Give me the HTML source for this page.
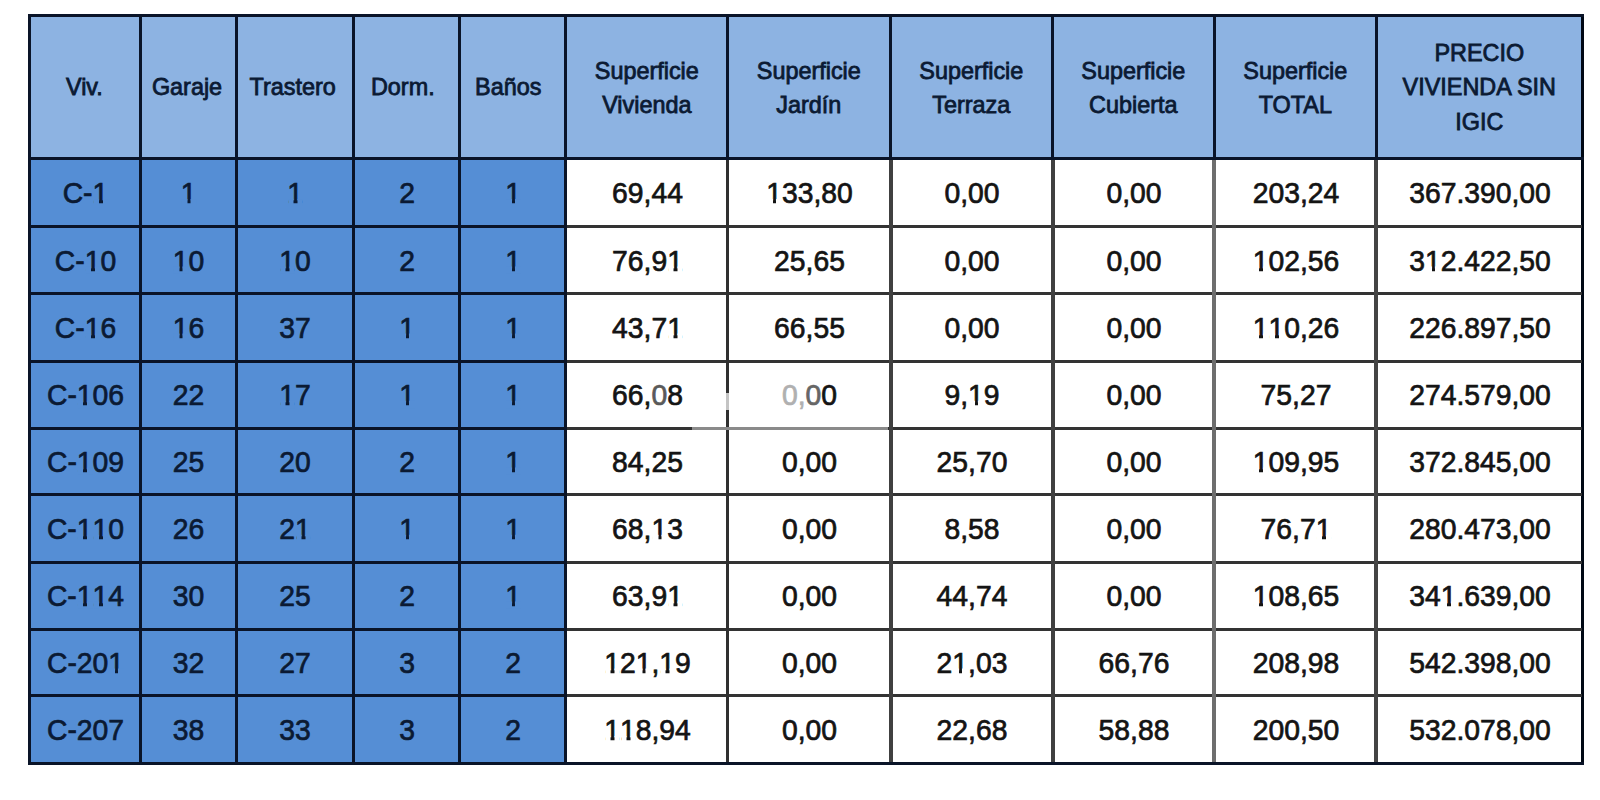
<!DOCTYPE html>
<html><head><meta charset="utf-8"><style>
html,body{margin:0;padding:0;background:#fff;width:1600px;height:800px;overflow:hidden;position:relative;font-family:"Liberation Sans",sans-serif;}
.c{position:absolute;}
.t{position:absolute;left:0;right:0;top:50%;text-align:center;white-space:nowrap;}
.h .t{font-size:23.4px;line-height:34.5px;color:#0b1a33;-webkit-text-stroke:0.8px #0b1a33;}
.b .t,.w .t{font-size:28.3px;line-height:40px;height:40px;margin-top:-20px;}
.b .t{color:#0b1a33;-webkit-text-stroke:0.7px #0b1a33;}
.w .t{color:#141414;-webkit-text-stroke:0.7px #141414;}
.h{background:#8db3e2;}
.b{background:#558ed5;}
.w{background:#fff;}
.l{position:absolute;}
.o{position:relative;}
.o::before,.o::after{content:'';position:absolute;bottom:0.1em;height:0.25em;}
.o::before{left:0.04em;width:0.195em;}
.o::after{left:0.356em;width:0.2em;}
.b .o::before,.b .o::after{background:#558ed5;}
.w .o::before,.w .o::after{background:#fff;}
</style></head><body>

<div class="c h" style="left:29px;top:15px;width:111px;height:143px"><div class="t" style="transform:translateX(-0.10px);margin-top:-16.75px">Viv.</div></div>
<div class="c h" style="left:140px;top:15px;width:96px;height:143px"><div class="t" style="transform:translateX(-1.00px);margin-top:-16.75px">Garaje</div></div>
<div class="c h" style="left:236px;top:15px;width:117px;height:143px"><div class="t" style="transform:translateX(-1.80px);margin-top:-16.75px">Trastero</div></div>
<div class="c h" style="left:353px;top:15px;width:106px;height:143px"><div class="t" style="transform:translateX(-3.20px);margin-top:-16.75px">Dorm.</div></div>
<div class="c h" style="left:459px;top:15px;width:106px;height:143px"><div class="t" style="transform:translateX(-3.80px);margin-top:-16.75px">Baños</div></div>
<div class="c h" style="left:565px;top:15px;width:162px;height:143px"><div class="t" style="transform:translateX(0.80px);margin-top:-32.80px">Superficie<br>Vivienda</div></div>
<div class="c h" style="left:727px;top:15px;width:163px;height:143px"><div class="t" style="transform:translateX(0.30px);margin-top:-32.80px">Superficie<br>Jardín</div></div>
<div class="c h" style="left:890px;top:15px;width:162px;height:143px"><div class="t" style="transform:translateX(0.30px);margin-top:-32.80px">Superficie<br>Terraza</div></div>
<div class="c h" style="left:1052px;top:15px;width:162px;height:143px"><div class="t" style="transform:translateX(0.30px);margin-top:-32.80px">Superficie<br>Cubierta</div></div>
<div class="c h" style="left:1214px;top:15px;width:162px;height:143px"><div class="t" style="transform:translateX(0.30px);margin-top:-32.80px">Superficie<br>TOTAL</div></div>
<div class="c h" style="left:1376px;top:15px;width:206px;height:143px"><div class="t" style="transform:translateX(0.30px);margin-top:-50.80px">PRECIO<br>VIVIENDA SIN<br>IGIC</div></div>
<div class="c b" style="left:29px;top:158px;width:111px;height:68px"><div class="t" style="transform:translate(1.00px,0.90px) scaleY(1.04)">C-<span class="o">1</span></div></div>
<div class="c b" style="left:140px;top:158px;width:96px;height:68px"><div class="t" style="transform:translate(0.50px,0.90px) scaleY(1.04)"><span class="o">1</span></div></div>
<div class="c b" style="left:236px;top:158px;width:117px;height:68px"><div class="t" style="transform:translate(0.50px,0.90px) scaleY(1.04)"><span class="o">1</span></div></div>
<div class="c b" style="left:353px;top:158px;width:106px;height:68px"><div class="t" style="transform:translate(1.00px,0.90px) scaleY(1.04)">2</div></div>
<div class="c b" style="left:459px;top:158px;width:106px;height:68px"><div class="t" style="transform:translate(1.00px,0.90px) scaleY(1.04)"><span class="o">1</span></div></div>
<div class="c w" style="left:565px;top:158px;width:162px;height:68px"><div class="t" style="transform:translate(1.50px,0.90px) scaleY(1.04)">69,44</div></div>
<div class="c w" style="left:727px;top:158px;width:163px;height:68px"><div class="t" style="transform:translate(1.00px,0.90px) scaleY(1.04)"><span class="o">1</span>33,80</div></div>
<div class="c w" style="left:890px;top:158px;width:162px;height:68px"><div class="t" style="transform:translate(1.00px,0.90px) scaleY(1.04)">0,00</div></div>
<div class="c w" style="left:1052px;top:158px;width:162px;height:68px"><div class="t" style="transform:translate(1.00px,0.90px) scaleY(1.04)">0,00</div></div>
<div class="c w" style="left:1214px;top:158px;width:162px;height:68px"><div class="t" style="transform:translate(1.00px,0.90px) scaleY(1.04)">203,24</div></div>
<div class="c w" style="left:1376px;top:158px;width:206px;height:68px"><div class="t" style="transform:translate(1.00px,0.90px) scaleY(1.04)">367.390,00</div></div>
<div class="c b" style="left:29px;top:226px;width:111px;height:67px"><div class="t" style="transform:translate(1.00px,0.20px) scaleY(1.04)">C-<span class="o">1</span>0</div></div>
<div class="c b" style="left:140px;top:226px;width:96px;height:67px"><div class="t" style="transform:translate(0.50px,0.20px) scaleY(1.04)"><span class="o">1</span>0</div></div>
<div class="c b" style="left:236px;top:226px;width:117px;height:67px"><div class="t" style="transform:translate(0.50px,0.20px) scaleY(1.04)"><span class="o">1</span>0</div></div>
<div class="c b" style="left:353px;top:226px;width:106px;height:67px"><div class="t" style="transform:translate(1.00px,0.20px) scaleY(1.04)">2</div></div>
<div class="c b" style="left:459px;top:226px;width:106px;height:67px"><div class="t" style="transform:translate(1.00px,0.20px) scaleY(1.04)"><span class="o">1</span></div></div>
<div class="c w" style="left:565px;top:226px;width:162px;height:67px"><div class="t" style="transform:translate(1.50px,0.20px) scaleY(1.04)">76,9<span class="o">1</span></div></div>
<div class="c w" style="left:727px;top:226px;width:163px;height:67px"><div class="t" style="transform:translate(1.00px,0.20px) scaleY(1.04)">25,65</div></div>
<div class="c w" style="left:890px;top:226px;width:162px;height:67px"><div class="t" style="transform:translate(1.00px,0.20px) scaleY(1.04)">0,00</div></div>
<div class="c w" style="left:1052px;top:226px;width:162px;height:67px"><div class="t" style="transform:translate(1.00px,0.20px) scaleY(1.04)">0,00</div></div>
<div class="c w" style="left:1214px;top:226px;width:162px;height:67px"><div class="t" style="transform:translate(1.00px,0.20px) scaleY(1.04)"><span class="o">1</span>02,56</div></div>
<div class="c w" style="left:1376px;top:226px;width:206px;height:67px"><div class="t" style="transform:translate(1.00px,0.20px) scaleY(1.04)">3<span class="o">1</span>2.422,50</div></div>
<div class="c b" style="left:29px;top:293px;width:111px;height:68px"><div class="t" style="transform:translate(1.00px,0.30px) scaleY(1.04)">C-<span class="o">1</span>6</div></div>
<div class="c b" style="left:140px;top:293px;width:96px;height:68px"><div class="t" style="transform:translate(0.50px,0.30px) scaleY(1.04)"><span class="o">1</span>6</div></div>
<div class="c b" style="left:236px;top:293px;width:117px;height:68px"><div class="t" style="transform:translate(0.50px,0.30px) scaleY(1.04)">37</div></div>
<div class="c b" style="left:353px;top:293px;width:106px;height:68px"><div class="t" style="transform:translate(1.00px,0.30px) scaleY(1.04)"><span class="o">1</span></div></div>
<div class="c b" style="left:459px;top:293px;width:106px;height:68px"><div class="t" style="transform:translate(1.00px,0.30px) scaleY(1.04)"><span class="o">1</span></div></div>
<div class="c w" style="left:565px;top:293px;width:162px;height:68px"><div class="t" style="transform:translate(1.50px,0.30px) scaleY(1.04)">43,7<span class="o">1</span></div></div>
<div class="c w" style="left:727px;top:293px;width:163px;height:68px"><div class="t" style="transform:translate(1.00px,0.30px) scaleY(1.04)">66,55</div></div>
<div class="c w" style="left:890px;top:293px;width:162px;height:68px"><div class="t" style="transform:translate(1.00px,0.30px) scaleY(1.04)">0,00</div></div>
<div class="c w" style="left:1052px;top:293px;width:162px;height:68px"><div class="t" style="transform:translate(1.00px,0.30px) scaleY(1.04)">0,00</div></div>
<div class="c w" style="left:1214px;top:293px;width:162px;height:68px"><div class="t" style="transform:translate(1.00px,0.30px) scaleY(1.04)"><span class="o">1</span><span class="o">1</span>0,26</div></div>
<div class="c w" style="left:1376px;top:293px;width:206px;height:68px"><div class="t" style="transform:translate(1.00px,0.30px) scaleY(1.04)">226.897,50</div></div>
<div class="c b" style="left:29px;top:361px;width:111px;height:67px"><div class="t" style="transform:translate(1.00px,-0.50px) scaleY(1.04)">C-<span class="o">1</span>06</div></div>
<div class="c b" style="left:140px;top:361px;width:96px;height:67px"><div class="t" style="transform:translate(0.50px,-0.50px) scaleY(1.04)">22</div></div>
<div class="c b" style="left:236px;top:361px;width:117px;height:67px"><div class="t" style="transform:translate(0.50px,-0.50px) scaleY(1.04)"><span class="o">1</span>7</div></div>
<div class="c b" style="left:353px;top:361px;width:106px;height:67px"><div class="t" style="transform:translate(1.00px,-0.50px) scaleY(1.04)"><span class="o">1</span></div></div>
<div class="c b" style="left:459px;top:361px;width:106px;height:67px"><div class="t" style="transform:translate(1.00px,-0.50px) scaleY(1.04)"><span class="o">1</span></div></div>
<div class="c w" style="left:565px;top:361px;width:162px;height:67px"><div class="t" style="transform:translate(1.50px,-0.50px) scaleY(1.04)">66,<span style="color:#5a5a5a;-webkit-text-stroke-color:#5a5a5a">0</span>8</div></div>
<div class="c w" style="left:727px;top:361px;width:163px;height:67px"><div class="t" style="transform:translate(1.00px,-0.50px) scaleY(1.04)"><span style="color:#b0b0b0;-webkit-text-stroke-color:#b0b0b0">0,</span><span style="color:#666;-webkit-text-stroke-color:#666">0</span>0</div></div>
<div class="c w" style="left:890px;top:361px;width:162px;height:67px"><div class="t" style="transform:translate(1.00px,-0.50px) scaleY(1.04)">9,<span class="o">1</span>9</div></div>
<div class="c w" style="left:1052px;top:361px;width:162px;height:67px"><div class="t" style="transform:translate(1.00px,-0.50px) scaleY(1.04)">0,00</div></div>
<div class="c w" style="left:1214px;top:361px;width:162px;height:67px"><div class="t" style="transform:translate(1.00px,-0.50px) scaleY(1.04)">75,27</div></div>
<div class="c w" style="left:1376px;top:361px;width:206px;height:67px"><div class="t" style="transform:translate(1.00px,-0.50px) scaleY(1.04)">274.579,00</div></div>
<div class="c b" style="left:29px;top:428px;width:111px;height:66px"><div class="t" style="transform:translate(1.00px,0.20px) scaleY(1.04)">C-<span class="o">1</span>09</div></div>
<div class="c b" style="left:140px;top:428px;width:96px;height:66px"><div class="t" style="transform:translate(0.50px,0.20px) scaleY(1.04)">25</div></div>
<div class="c b" style="left:236px;top:428px;width:117px;height:66px"><div class="t" style="transform:translate(0.50px,0.20px) scaleY(1.04)">20</div></div>
<div class="c b" style="left:353px;top:428px;width:106px;height:66px"><div class="t" style="transform:translate(1.00px,0.20px) scaleY(1.04)">2</div></div>
<div class="c b" style="left:459px;top:428px;width:106px;height:66px"><div class="t" style="transform:translate(1.00px,0.20px) scaleY(1.04)"><span class="o">1</span></div></div>
<div class="c w" style="left:565px;top:428px;width:162px;height:66px"><div class="t" style="transform:translate(1.50px,0.20px) scaleY(1.04)">84,25</div></div>
<div class="c w" style="left:727px;top:428px;width:163px;height:66px"><div class="t" style="transform:translate(1.00px,0.20px) scaleY(1.04)">0,00</div></div>
<div class="c w" style="left:890px;top:428px;width:162px;height:66px"><div class="t" style="transform:translate(1.00px,0.20px) scaleY(1.04)">25,70</div></div>
<div class="c w" style="left:1052px;top:428px;width:162px;height:66px"><div class="t" style="transform:translate(1.00px,0.20px) scaleY(1.04)">0,00</div></div>
<div class="c w" style="left:1214px;top:428px;width:162px;height:66px"><div class="t" style="transform:translate(1.00px,0.20px) scaleY(1.04)"><span class="o">1</span>09,95</div></div>
<div class="c w" style="left:1376px;top:428px;width:206px;height:66px"><div class="t" style="transform:translate(1.00px,0.20px) scaleY(1.04)">372.845,00</div></div>
<div class="c b" style="left:29px;top:494px;width:111px;height:68px"><div class="t" style="transform:translate(1.00px,0.55px) scaleY(1.04)">C-<span class="o">1</span><span class="o">1</span>0</div></div>
<div class="c b" style="left:140px;top:494px;width:96px;height:68px"><div class="t" style="transform:translate(0.50px,0.55px) scaleY(1.04)">26</div></div>
<div class="c b" style="left:236px;top:494px;width:117px;height:68px"><div class="t" style="transform:translate(0.50px,0.55px) scaleY(1.04)">2<span class="o">1</span></div></div>
<div class="c b" style="left:353px;top:494px;width:106px;height:68px"><div class="t" style="transform:translate(1.00px,0.55px) scaleY(1.04)"><span class="o">1</span></div></div>
<div class="c b" style="left:459px;top:494px;width:106px;height:68px"><div class="t" style="transform:translate(1.00px,0.55px) scaleY(1.04)"><span class="o">1</span></div></div>
<div class="c w" style="left:565px;top:494px;width:162px;height:68px"><div class="t" style="transform:translate(1.50px,0.55px) scaleY(1.04)">68,<span class="o">1</span>3</div></div>
<div class="c w" style="left:727px;top:494px;width:163px;height:68px"><div class="t" style="transform:translate(1.00px,0.55px) scaleY(1.04)">0,00</div></div>
<div class="c w" style="left:890px;top:494px;width:162px;height:68px"><div class="t" style="transform:translate(1.00px,0.55px) scaleY(1.04)">8,58</div></div>
<div class="c w" style="left:1052px;top:494px;width:162px;height:68px"><div class="t" style="transform:translate(1.00px,0.55px) scaleY(1.04)">0,00</div></div>
<div class="c w" style="left:1214px;top:494px;width:162px;height:68px"><div class="t" style="transform:translate(1.00px,0.55px) scaleY(1.04)">76,7<span class="o">1</span></div></div>
<div class="c w" style="left:1376px;top:494px;width:206px;height:68px"><div class="t" style="transform:translate(1.00px,0.55px) scaleY(1.04)">280.473,00</div></div>
<div class="c b" style="left:29px;top:562px;width:111px;height:67px"><div class="t" style="transform:translate(1.00px,-0.80px) scaleY(1.04)">C-<span class="o">1</span><span class="o">1</span>4</div></div>
<div class="c b" style="left:140px;top:562px;width:96px;height:67px"><div class="t" style="transform:translate(0.50px,-0.80px) scaleY(1.04)">30</div></div>
<div class="c b" style="left:236px;top:562px;width:117px;height:67px"><div class="t" style="transform:translate(0.50px,-0.80px) scaleY(1.04)">25</div></div>
<div class="c b" style="left:353px;top:562px;width:106px;height:67px"><div class="t" style="transform:translate(1.00px,-0.80px) scaleY(1.04)">2</div></div>
<div class="c b" style="left:459px;top:562px;width:106px;height:67px"><div class="t" style="transform:translate(1.00px,-0.80px) scaleY(1.04)"><span class="o">1</span></div></div>
<div class="c w" style="left:565px;top:562px;width:162px;height:67px"><div class="t" style="transform:translate(1.50px,-0.80px) scaleY(1.04)">63,9<span class="o">1</span></div></div>
<div class="c w" style="left:727px;top:562px;width:163px;height:67px"><div class="t" style="transform:translate(1.00px,-0.80px) scaleY(1.04)">0,00</div></div>
<div class="c w" style="left:890px;top:562px;width:162px;height:67px"><div class="t" style="transform:translate(1.00px,-0.80px) scaleY(1.04)">44,74</div></div>
<div class="c w" style="left:1052px;top:562px;width:162px;height:67px"><div class="t" style="transform:translate(1.00px,-0.80px) scaleY(1.04)">0,00</div></div>
<div class="c w" style="left:1214px;top:562px;width:162px;height:67px"><div class="t" style="transform:translate(1.00px,-0.80px) scaleY(1.04)"><span class="o">1</span>08,65</div></div>
<div class="c w" style="left:1376px;top:562px;width:206px;height:67px"><div class="t" style="transform:translate(1.00px,-0.80px) scaleY(1.04)">34<span class="o">1</span>.639,00</div></div>
<div class="c b" style="left:29px;top:629px;width:111px;height:66px"><div class="t" style="transform:translate(1.00px,0.30px) scaleY(1.04)">C-20<span class="o">1</span></div></div>
<div class="c b" style="left:140px;top:629px;width:96px;height:66px"><div class="t" style="transform:translate(0.50px,0.30px) scaleY(1.04)">32</div></div>
<div class="c b" style="left:236px;top:629px;width:117px;height:66px"><div class="t" style="transform:translate(0.50px,0.30px) scaleY(1.04)">27</div></div>
<div class="c b" style="left:353px;top:629px;width:106px;height:66px"><div class="t" style="transform:translate(1.00px,0.30px) scaleY(1.04)">3</div></div>
<div class="c b" style="left:459px;top:629px;width:106px;height:66px"><div class="t" style="transform:translate(1.00px,0.30px) scaleY(1.04)">2</div></div>
<div class="c w" style="left:565px;top:629px;width:162px;height:66px"><div class="t" style="transform:translate(1.50px,0.30px) scaleY(1.04)"><span class="o">1</span>2<span class="o">1</span>,<span class="o">1</span>9</div></div>
<div class="c w" style="left:727px;top:629px;width:163px;height:66px"><div class="t" style="transform:translate(1.00px,0.30px) scaleY(1.04)">0,00</div></div>
<div class="c w" style="left:890px;top:629px;width:162px;height:66px"><div class="t" style="transform:translate(1.00px,0.30px) scaleY(1.04)">2<span class="o">1</span>,03</div></div>
<div class="c w" style="left:1052px;top:629px;width:162px;height:66px"><div class="t" style="transform:translate(1.00px,0.30px) scaleY(1.04)">66,76</div></div>
<div class="c w" style="left:1214px;top:629px;width:162px;height:66px"><div class="t" style="transform:translate(1.00px,0.30px) scaleY(1.04)">208,98</div></div>
<div class="c w" style="left:1376px;top:629px;width:206px;height:66px"><div class="t" style="transform:translate(1.00px,0.30px) scaleY(1.04)">542.398,00</div></div>
<div class="c b" style="left:29px;top:695px;width:111px;height:68px"><div class="t" style="transform:translate(1.00px,0.70px) scaleY(1.04)">C-207</div></div>
<div class="c b" style="left:140px;top:695px;width:96px;height:68px"><div class="t" style="transform:translate(0.50px,0.70px) scaleY(1.04)">38</div></div>
<div class="c b" style="left:236px;top:695px;width:117px;height:68px"><div class="t" style="transform:translate(0.50px,0.70px) scaleY(1.04)">33</div></div>
<div class="c b" style="left:353px;top:695px;width:106px;height:68px"><div class="t" style="transform:translate(1.00px,0.70px) scaleY(1.04)">3</div></div>
<div class="c b" style="left:459px;top:695px;width:106px;height:68px"><div class="t" style="transform:translate(1.00px,0.70px) scaleY(1.04)">2</div></div>
<div class="c w" style="left:565px;top:695px;width:162px;height:68px"><div class="t" style="transform:translate(1.50px,0.70px) scaleY(1.04)"><span class="o">1</span><span class="o">1</span>8,94</div></div>
<div class="c w" style="left:727px;top:695px;width:163px;height:68px"><div class="t" style="transform:translate(1.00px,0.70px) scaleY(1.04)">0,00</div></div>
<div class="c w" style="left:890px;top:695px;width:162px;height:68px"><div class="t" style="transform:translate(1.00px,0.70px) scaleY(1.04)">22,68</div></div>
<div class="c w" style="left:1052px;top:695px;width:162px;height:68px"><div class="t" style="transform:translate(1.00px,0.70px) scaleY(1.04)">58,88</div></div>
<div class="c w" style="left:1214px;top:695px;width:162px;height:68px"><div class="t" style="transform:translate(1.00px,0.70px) scaleY(1.04)">200,50</div></div>
<div class="c w" style="left:1376px;top:695px;width:206px;height:68px"><div class="t" style="transform:translate(1.00px,0.70px) scaleY(1.04)">532.078,00</div></div>
<div class="l" style="left:28px;top:14px;width:3px;height:751px;background:#0a1428"></div>
<div class="l" style="left:139px;top:14px;width:3px;height:751px;background:#0a1428"></div>
<div class="l" style="left:235px;top:14px;width:3px;height:751px;background:#0a1428"></div>
<div class="l" style="left:352px;top:14px;width:3px;height:751px;background:#0a1428"></div>
<div class="l" style="left:458px;top:14px;width:3px;height:751px;background:#0a1428"></div>
<div class="l" style="left:564px;top:14px;width:3px;height:751px;background:#0a1428"></div>
<div class="l" style="left:726px;top:14px;width:3px;height:146px;background:#0a1428"></div>
<div class="l" style="left:889px;top:14px;width:3px;height:146px;background:#0a1428"></div>
<div class="l" style="left:1051px;top:14px;width:3px;height:146px;background:#0a1428"></div>
<div class="l" style="left:1213px;top:14px;width:3px;height:146px;background:#0a1428"></div>
<div class="l" style="left:1375px;top:14px;width:3px;height:146px;background:#0a1428"></div>
<div class="l" style="left:1581px;top:14px;width:3px;height:751px;background:#000814"></div>
<div class="l" style="left:28px;top:14px;width:1556px;height:3px;background:#0a1428"></div>
<div class="l" style="left:28px;top:157px;width:1556px;height:3px;background:#0a1428"></div>
<div class="l" style="left:28px;top:225px;width:536px;height:3px;background:#0a1428"></div>
<div class="l" style="left:567px;top:225px;width:1015px;height:3px;background:#333"></div>
<div class="l" style="left:28px;top:292px;width:536px;height:3px;background:#0a1428"></div>
<div class="l" style="left:567px;top:292px;width:1015px;height:3px;background:#333"></div>
<div class="l" style="left:28px;top:360px;width:536px;height:3px;background:#0a1428"></div>
<div class="l" style="left:567px;top:360px;width:1015px;height:3px;background:#333"></div>
<div class="l" style="left:28px;top:427px;width:536px;height:3px;background:#0a1428"></div>
<div class="l" style="left:567px;top:427px;width:1015px;height:3px;background:#333"></div>
<div class="l" style="left:28px;top:493px;width:536px;height:3px;background:#0a1428"></div>
<div class="l" style="left:567px;top:493px;width:1015px;height:3px;background:#333"></div>
<div class="l" style="left:28px;top:561px;width:536px;height:3px;background:#0a1428"></div>
<div class="l" style="left:567px;top:561px;width:1015px;height:3px;background:#333"></div>
<div class="l" style="left:28px;top:628px;width:536px;height:3px;background:#0a1428"></div>
<div class="l" style="left:567px;top:628px;width:1015px;height:3px;background:#333"></div>
<div class="l" style="left:28px;top:694px;width:536px;height:3px;background:#0a1428"></div>
<div class="l" style="left:567px;top:694px;width:1015px;height:3px;background:#333"></div>
<div class="l" style="left:28px;top:762px;width:1556px;height:3px;background:#0a1428"></div>
<div class="l" style="left:726px;top:160px;width:3px;height:602px;background:#303030"></div>
<div class="l" style="left:889px;top:160px;width:4px;height:602px;background:#404040"></div>
<div class="l" style="left:1051px;top:160px;width:4px;height:602px;background:#404040"></div>
<div class="l" style="left:1212px;top:160px;width:4px;height:602px;background:#6e6e6e"></div>
<div class="l" style="left:1374px;top:160px;width:4px;height:602px;background:#444"></div>
<div class="l" style="left:726px;top:393px;width:3px;height:17px;background:#c4c4c4"></div>
<div class="l" style="left:692px;top:427px;width:196px;height:3px;background:#8a8a8a"></div>
</body></html>
